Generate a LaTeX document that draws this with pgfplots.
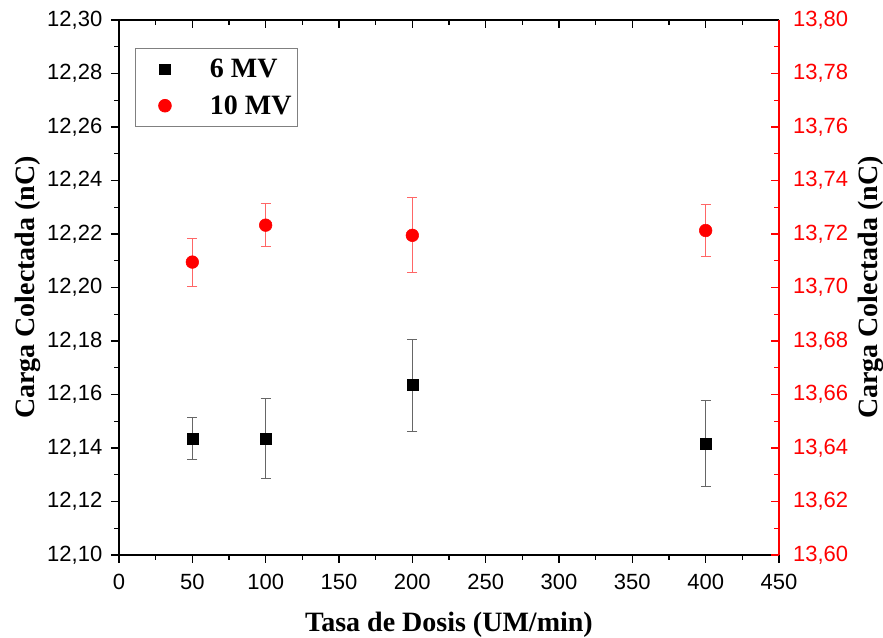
\documentclass[border=0pt]{standalone}
\usepackage{fontspec}
\setmainfont{Liberation Serif}
\newfontfamily\arialfont{Liberation Sans}
\usepackage{pgfplots}
\pgfplotsset{compat=1.18}

% Charge collected for 6 MV (left axis) and 10 MV (right axis)
\pgfplotstableread{
x   y       e
50  12.1435 0.0079
100 12.1435 0.0150
200 12.1635 0.0172
400 12.1417 0.0159
}\sixmv
\pgfplotstableread{
x   y       e
50  13.7095 0.0090
100 13.7233 0.0080
200 13.7195 0.0140
400 13.7213 0.0098
}\tenmv

\begin{document}
\begin{tikzpicture}
\useasboundingbox (-89.25pt,-62.25pt) rectangle (573pt,416.25pt);
\pgfplotsset{
  base/.style={
    width=495pt, height=401.25pt, scale only axis,
    xmin=0, xmax=450, xtick={0,50,...,450},
    minor x tick num=1, minor y tick num=1,
    major tick length=6pt, minor tick length=3.5pt,
    every tick/.style={line width=1pt},
    axis line style={line width=1.2pt},
    tick label style={font=\arialfont\fontsize{16.5}{18}\selectfont},
    xticklabel style={yshift=-4.5pt},
    /pgf/number format/assume math mode=true,
    label style={font=\bfseries\fontsize{21}{24}\selectfont},
    yticklabel style={/pgf/number format/fixed, /pgf/number format/fixed zerofill,
      /pgf/number format/precision=2, /pgf/number format/use comma,
      /pgf/number format/1000 sep={}},
  }
}
\begin{axis}[base,
  axis x line*=bottom, axis y line*=left, tick align=outside,
  ymin=12.10, ymax=12.30,
  ytick={12.10,12.12,12.14,12.16,12.18,12.20,12.22,12.24,12.26,12.28,12.30},
  yticklabel style={xshift=-3pt},
  xlabel={Tasa de Dosis (UM/min)},
  xlabel style={at={(axis description cs:0.5,-0.1439)}, anchor=base},
  ylabel={Carga Colectada (nC)},
  ylabel style={at={(axis description cs:-0.1273,0.5)}, anchor=base},
]
\addplot[only marks, mark=square*, mark size=4.1pt, black,
  error bars/.cd, y dir=both, y explicit,
  error bar style={black!60, line width=0.7pt},
  error mark options={rotate=90, mark size=3.75pt, black!60, line width=0.7pt}]
  table[x=x, y=y, y error=e] {\sixmv};
\end{axis}
\begin{axis}[base,
  axis x line*=top, axis y line*=right, tick align=inside,
  xticklabels={},
  ymin=13.60, ymax=13.80,
  ytick={13.60,13.62,13.64,13.66,13.68,13.70,13.72,13.74,13.76,13.78,13.80},
  y axis line style={red},
  ytick style={red},
  yticklabel style={red, xshift=7pt},
  ylabel={Carga Colectada (nC)},
  ylabel style={at={(axis description cs:1.1485,0.5)}, anchor=base},
  legend image code/.code={
    \path (-20pt,0pt) (0pt,0pt);
    \draw[#1] plot coordinates {(0pt,0pt)};
  },
  legend style={at={(axis description cs:0.024,0.948)}, anchor=north west,
    draw=black!50, line width=0.6pt, font=\bfseries\fontsize{21}{23}\selectfont,
    inner xsep=2pt, inner ysep=6pt, row sep=8pt,
    /tikz/every odd column/.append style={column sep=27pt}},
  legend cell align=left,
]
\addlegendimage{only marks, mark=square*, mark size=3.9pt, black}
\addlegendentry{6 MV}
\addplot[only marks, mark=*, mark size=4.75pt, red,
  error bars/.cd, y dir=both, y explicit,
  error bar style={red!60, line width=0.7pt},
  error mark options={rotate=90, mark size=3.75pt, red!60, line width=0.7pt}]
  table[x=x, y=y, y error=e] {\tenmv};
\addlegendentry{10 MV}
\end{axis}
\end{tikzpicture}
\end{document}
